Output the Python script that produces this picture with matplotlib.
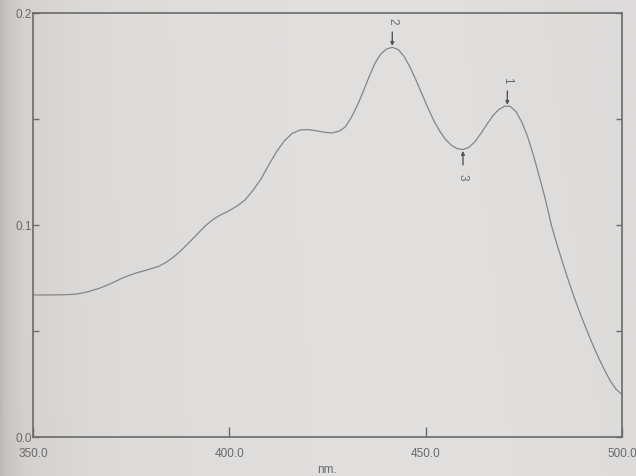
import numpy as np
import matplotlib
matplotlib.use("Agg")
import matplotlib.pyplot as plt
from matplotlib.colors import LinearSegmentedColormap

# Absorbance spectrum (wavelength in nm, absorbance)
wavelength = [350.0, 354.0, 358.0, 361.0, 364.0, 367.0, 370.0, 373.0, 376.0, 379.0,
              382.0, 384.0, 386.0, 388.0, 390.0, 392.0, 394.0, 396.0, 398.0, 400.0,
              402.0, 404.0, 406.0, 408.0, 410.0, 412.0, 414.0, 416.0, 418.0, 420.0,
              422.0, 424.0, 426.0, 428.0, 429.5, 431.0, 432.5, 434.0, 435.5, 437.0,
              438.5, 440.0, 441.5, 443.0, 444.5, 446.0, 447.5, 449.0, 450.5, 452.0,
              453.5, 455.0, 456.5, 458.0, 459.5, 461.0, 462.5, 464.0, 465.5, 467.0,
              468.5, 470.0, 471.5, 473.0, 474.5, 476.0, 477.5, 479.0, 480.5, 482.0,
              483.5, 485.0, 486.5, 488.0, 489.5, 491.0, 492.5, 494.0, 495.5, 497.0,
              498.5, 500.0]
absorbance = [0.0670, 0.0670, 0.0671, 0.0674, 0.0685, 0.0702, 0.0725, 0.0752, 0.0772, 0.0788,
              0.0805, 0.0825, 0.0852, 0.0885, 0.0922, 0.0960, 0.0998, 0.1028, 0.1050, 0.1068,
              0.1090, 0.1118, 0.1163, 0.1215, 0.1282, 0.1345, 0.1397, 0.1432, 0.1448, 0.1450,
              0.1445, 0.1438, 0.1434, 0.1443, 0.1462, 0.1505, 0.1560, 0.1625, 0.1695, 0.1760,
              0.1805, 0.1830, 0.1838, 0.1828, 0.1795, 0.1745, 0.1685, 0.1620, 0.1555, 0.1495,
              0.1445, 0.1405, 0.1377, 0.1360, 0.1356, 0.1366, 0.1392, 0.1430, 0.1472, 0.1513,
              0.1543, 0.1560, 0.1560, 0.1535, 0.1485, 0.1415, 0.1325, 0.1225, 0.1120, 0.1000,
              0.0905, 0.0815, 0.0730, 0.0650, 0.0575, 0.0505, 0.0438, 0.0375, 0.0318, 0.0265,
              0.0225, 0.0200]

# Picked peaks / valleys: label, wavelength, direction of the marker
peak_labels = ["1", "2", "3"]
peak_wavelengths = [470.8, 441.5, 459.5]
peak_is_valley = [False, False, True]

x_tick_values = [350.0, 400.0, 450.0, 500.0]
x_tick_labels = ["350.0", "400.0", "450.0", "500.0"]
y_tick_values = [0.0, 0.1, 0.2]
y_tick_labels = ["0.0", "0.1", "0.2"]

W, H = 636, 477
ink = "#6a6a6a"
trace = "#858585"

fig = plt.figure(figsize=(W / 100, H / 100), dpi=100)

# paper background, darker toward the left edge, a touch lighter lower right
bg = fig.add_axes([0, 0, 1, 1], zorder=-10)
bg.set_axis_off()
paper = LinearSegmentedColormap.from_list(
    "paper", ["#bdb9b8", "#d4d1cf", "#dcdad8", "#dfdddc", "#e1dfde", "#e2e0df", "#dedcdb"])
gx = np.linspace(0, 1, 256)[None, :] ** 0.55
gy = np.linspace(0.04, -0.02, 96)[:, None]
bg.imshow(np.clip(gx + gy * gx, 0, 1), aspect="auto", cmap=paper,
          extent=[0, 1, 0, 1], vmin=0, vmax=1, origin="upper")

left, right, top, bottom = 33, 622, 14, 438
ax = fig.add_axes([left / W, 1 - bottom / H, (right - left) / W, (bottom - top) / H])
ax.patch.set_alpha(0)

ax.plot(wavelength, absorbance, color=trace, lw=0.9, solid_joinstyle="round")
ax.set_xlim(350, 500)
ax.set_ylim(0.0, 0.2)

for s in ax.spines.values():
    s.set_color(ink)
    s.set_linewidth(1.2)

ax.set_xticks(x_tick_values)
ax.set_xticklabels(x_tick_labels)
ax.set_yticks(y_tick_values)
ax.set_yticklabels(y_tick_labels)
ax.set_yticks([0.05, 0.15], minor=True)
ax.tick_params(axis="x", which="major", direction="in", length=7, width=1.0,
               color=ink, labelcolor=ink, labelsize=8.5, pad=7)
ax.tick_params(axis="y", which="both", direction="in", length=4, width=1.0,
               color=ink, labelcolor=ink, labelsize=8.5, pad=1, right=True)
for lab in ax.get_xticklabels() + ax.get_yticklabels():
    lab.set_fontfamily("Liberation Sans")

ax.set_xlabel("nm.", color=ink, fontsize=8.5, fontfamily="Liberation Sans", labelpad=3)

# peak markers: short arrow toward the trace plus a rotated index
for lab, wl, valley in zip(peak_labels, peak_wavelengths, peak_is_valley):
    yv = float(np.interp(wl, wavelength, absorbance))
    sign = -1 if valley else 1
    ax.annotate("", xy=(wl, yv), xycoords="data",
                xytext=(0, sign * 11), textcoords="offset points",
                arrowprops=dict(arrowstyle="-|>", color="#555555", lw=1.0,
                                mutation_scale=5, shrinkA=0, shrinkB=1))
    ax.annotate(lab, xy=(wl, yv), xycoords="data",
                xytext=(0, sign * 17), textcoords="offset points",
                rotation=270, ha="center", va="bottom" if not valley else "top",
                color=ink, fontsize=8.5, fontfamily="Liberation Sans")

fig.savefig("out.png", dpi=100)
